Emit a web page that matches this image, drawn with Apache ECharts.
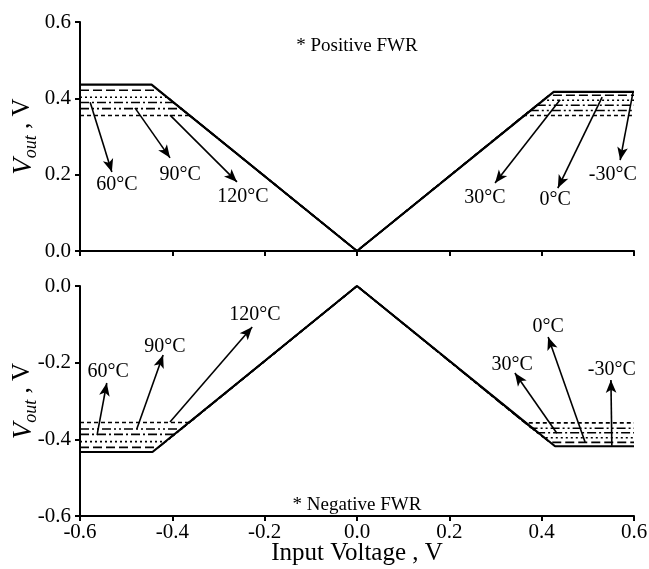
<!DOCTYPE html>
<html>
<head>
<meta charset="utf-8">
<script src="https://cdn.jsdelivr.net/npm/echarts@6/dist/echarts.min.js"></script>
<style>
  html, body { margin: 0; padding: 0; background: #fff; }
  #main { width: 649px; height: 569px; }
</style>
</head>
<body>
<div id="main"></div>
<script>
// temperatures, one curve each
const temps = ['-30°C', '0°C', '30°C', '60°C', '90°C', '120°C'];

// positive FWR: saturation levels and knee voltages
const posLeftLevel = [0.436, 0.421, 0.403, 0.389, 0.373, 0.355];
const posLeftKnee = [-0.445, -0.430, -0.411, -0.397, -0.381, -0.362];
const posRightLevel = [0.417, 0.408, 0.395, 0.382, 0.368, 0.355];
const posRightKnee = [0.426, 0.416, 0.403, 0.390, 0.375, 0.362];

// negative FWR
const negLeftLevel = [-0.433, -0.421, -0.406, -0.387, -0.373, -0.356];
const negLeftKnee = [-0.443, -0.430, -0.414, -0.395, -0.381, -0.363];
const negRightLevel = [-0.418, -0.408, -0.396, -0.383, -0.371, -0.357];
const negRightKnee = [0.429, 0.418, 0.405, 0.391, 0.378, 0.364];

// arrow annotations: [label, x1, y1, x2, y2, labelX, labelY]
const posArrows = [
    ['60°C', -0.578, 0.390, -0.531, 0.207, -0.520, 0.173],
    ['90°C', -0.481, 0.375, -0.405, 0.244, -0.383, 0.199],
    ['120°C', -0.405, 0.356, -0.260, 0.181, -0.247, 0.141],
    ['30°C', 0.440, 0.396, 0.299, 0.178, 0.277, 0.139],
    ['0°C', 0.531, 0.403, 0.435, 0.165, 0.429, 0.134],
    ['-30°C', 0.598, 0.417, 0.570, 0.238, 0.554, 0.199]
];
const negArrows = [
    ['60°C', -0.563, -0.389, -0.542, -0.253, -0.539, -0.224],
    ['90°C', -0.477, -0.373, -0.420, -0.180, -0.416, -0.159],
    ['120°C', -0.405, -0.355, -0.227, -0.107, -0.221, -0.076],
    ['30°C', 0.433, -0.384, 0.342, -0.227, 0.336, -0.206],
    ['0°C', 0.494, -0.407, 0.414, -0.133, 0.414, -0.107],
    ['-30°C', 0.552, -0.417, 0.550, -0.245, 0.552, -0.219]
];

const FONT = '"Liberation Serif", "Times New Roman", serif';
const lineTypes = ['solid', [9, 4], [2, 3], [9, 3, 2, 3], [9, 3, 2, 3, 2, 3], [4, 3]];
const lineWidths = [2.2, 1.6, 1.6, 1.6, 1.6, 1.6];

function curve(i, lLevel, lKnee, rLevel, rKnee) {
    return [[-0.6, lLevel[i]], [lKnee[i], lLevel[i]], [0, 0], [rKnee[i], rLevel[i]], [0.6, rLevel[i]]];
}

function arrowMarks(arr) {
    return {
        silent: true,
        symbol: ['none', 'arrow'],
        symbolSize: [8, 13],
        label: { show: false },
        lineStyle: { color: '#000', width: 1.6, type: 'solid' },
        data: arr.map(a => [{ coord: [a[1], a[2]] }, { coord: [a[3], a[4]] }])
    };
}

function labelMarks(arr, extra) {
    const d = arr.map(a => ({
        coord: [a[5], a[6]],
        value: a[0],
        label: { formatter: a[0] }
    }));
    d.push(extra);
    return {
        silent: true,
        symbol: 'circle',
        symbolSize: 0,
        label: {
            show: true, position: 'inside', color: '#000',
            fontFamily: FONT, fontSize: 20
        },
        data: d
    };
}

const series = [];
temps.forEach((t, i) => {
    series.push({
        name: t + ' pos', type: 'line', xAxisIndex: 0, yAxisIndex: 0,
        data: curve(i, posLeftLevel, posLeftKnee, posRightLevel, posRightKnee),
        symbol: 'none', silent: true, z: 3,
        lineStyle: { color: '#000', width: lineWidths[i], type: lineTypes[i] }
    });
    series.push({
        name: t + ' neg', type: 'line', xAxisIndex: 1, yAxisIndex: 1,
        data: curve(i, negLeftLevel, negLeftKnee, negRightLevel, negRightKnee),
        symbol: 'none', silent: true, z: 3,
        lineStyle: { color: '#000', width: lineWidths[i], type: lineTypes[i] }
    });
});
series[0].markLine = arrowMarks(posArrows);
series[0].markPoint = labelMarks(posArrows, { coord: [0, 0.537], label: { formatter: '* Positive FWR', fontSize: 19 } });
series[1].markLine = arrowMarks(negArrows);
series[1].markPoint = labelMarks(negArrows, { coord: [0, -0.571], label: { formatter: '* Negative FWR', fontSize: 19 } });

const axisLineStyle = { onZero: false, lineStyle: { color: '#000', width: 2 } };
const tickStyle = { show: true, inside: false, length: 5, lineStyle: { color: '#000', width: 2 } };
const tickLabel = { color: '#000', fontFamily: FONT, fontSize: 21, formatter: v => v.toFixed(1) };
const yName = '{i|V}{s|out}{n| , V}';
const yNameStyle = {
    color: '#000', fontFamily: FONT,
    rich: {
        i: { fontFamily: FONT, fontSize: 27, fontStyle: 'italic', verticalAlign: 'top', lineHeight: 28 },
        s: { fontFamily: FONT, fontSize: 18, fontStyle: 'italic', verticalAlign: 'top', padding: [12, 0, 0, 0], lineHeight: 18 },
        n: { fontFamily: FONT, fontSize: 25, verticalAlign: 'top', lineHeight: 28 }
    }
};

let myChart = echarts.init(document.getElementById('main'));
myChart.setOption({
    animation: false,
    backgroundColor: '#fff',
    grid: [
        { left: 80, right: 15, top: 22, height: 229, outerBoundsMode: 'none', containLabel: false },
        { left: 80, right: 15, top: 286, height: 230, outerBoundsMode: 'none', containLabel: false }
    ],
    xAxis: [{
        gridIndex: 0, type: 'value', min: -0.6, max: 0.6, interval: 0.2,
        axisLine: axisLineStyle, axisTick: tickStyle,
        axisLabel: { show: false }, splitLine: { show: false }
    }, {
        gridIndex: 1, type: 'value', min: -0.6, max: 0.6, interval: 0.2,
        axisLine: axisLineStyle, axisTick: tickStyle,
        axisLabel: Object.assign({ margin: 6 }, tickLabel), splitLine: { show: false },
        name: 'Input Voltage , V', nameLocation: 'middle', nameGap: 25, nameMoveOverlap: false,
        nameTextStyle: { color: '#000', fontFamily: FONT, fontSize: 25 }
    }],
    yAxis: [{
        gridIndex: 0, type: 'value', min: 0, max: 0.6, interval: 0.2,
        axisLine: axisLineStyle, axisTick: tickStyle,
        axisLabel: Object.assign({ margin: 9 }, tickLabel), splitLine: { show: false },
        name: yName, nameLocation: 'middle', nameGap: 42, nameMoveOverlap: false, nameTextStyle: yNameStyle
    }, {
        gridIndex: 1, type: 'value', min: -0.6, max: 0, interval: 0.2,
        axisLine: axisLineStyle, axisTick: tickStyle,
        axisLabel: Object.assign({ margin: 9 }, tickLabel), splitLine: { show: false },
        name: yName, nameLocation: 'middle', nameGap: 42, nameMoveOverlap: false, nameTextStyle: yNameStyle
    }],
    series: series
});
</script>
</body>
</html>
